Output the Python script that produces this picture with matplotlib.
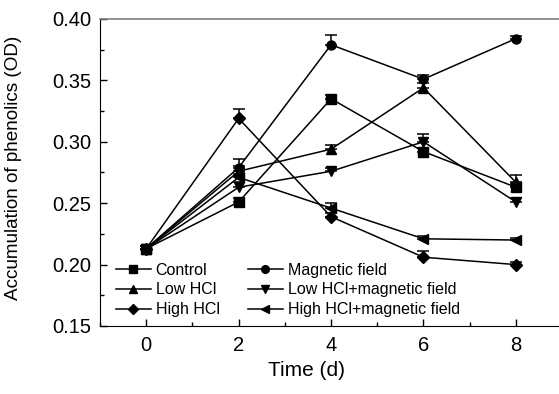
import numpy as np
import matplotlib.pyplot as plt
from matplotlib.lines import Line2D
from matplotlib.ticker import MultipleLocator

plt.rcParams['font.family'] = ['Liberation Sans', 'DejaVu Sans']

# Sampling days
days = [0, 2, 4, 6, 8]

# Mean phenolics accumulation (OD) per treatment
control = [0.213, 0.251, 0.335, 0.292, 0.263]
magnetic = [0.213, 0.279, 0.379, 0.351, 0.384]
low_hcl = [0.213, 0.276, 0.294, 0.344, 0.267]
low_hcl_mf = [0.213, 0.263, 0.276, 0.300, 0.251]
high_hcl = [0.213, 0.319, 0.239, 0.206, 0.200]
high_hcl_mf = [0.213, 0.271, 0.246, 0.221, 0.220]

# Upper error bars (only the upper half is drawn in the original)
control_err = [0.002, 0.003, 0.003, 0.003, 0.003]
magnetic_err = [0.002, 0.007, 0.008, 0.003, 0.002]
low_hcl_err = [0.002, 0.004, 0.003, 0.004, 0.006]
low_hcl_mf_err = [0.002, 0.004, 0.003, 0.006, 0.003]
high_hcl_err = [0.002, 0.008, 0.003, 0.005, 0.002]
high_hcl_mf_err = [0.002, 0.003, 0.004, 0.002, 0.002]

series = [
    ('Control', control, control_err, 's'),
    ('Low HCl', low_hcl, low_hcl_err, '^'),
    ('High HCl', high_hcl, high_hcl_err, 'D'),
    ('Magnetic field', magnetic, magnetic_err, 'o'),
    ('Low HCl+magnetic field', low_hcl_mf, low_hcl_mf_err, 'v'),
    ('High HCl+magnetic field', high_hcl_mf, high_hcl_mf_err, '<'),
]

fig = plt.figure(figsize=(5.59, 3.94), dpi=100)
ax = fig.add_axes([0.179, 0.1726, 0.8265, 0.7792])

handles = []
for name, vals, err, mk in series:
    ms = 5.8 if mk == 'D' else 6.5
    ax.errorbar(days, vals, yerr=[np.zeros(len(err)), err], color='black',
                marker=mk, markersize=ms, linewidth=1.1, elinewidth=1.1,
                capsize=4.5, capthick=1.1)
    handles.append(Line2D([], [], color='black', marker=mk,
                          markersize=ms * 0.85, linewidth=1.1, label=name))

ax.set_xlim(-1, 9)
ax.set_ylim(0.15, 0.40)
ax.xaxis.set_major_locator(MultipleLocator(2))
ax.xaxis.set_minor_locator(MultipleLocator(1))
ax.yaxis.set_major_locator(MultipleLocator(0.05))
ax.yaxis.set_minor_locator(MultipleLocator(0.025))
ax.yaxis.set_major_formatter(plt.FormatStrFormatter('%.2f'))
ax.tick_params(which='both', direction='in', top=False, right=False,
               labelsize=14.5, width=1)
ax.tick_params(which='major', length=5)
ax.tick_params(which='minor', length=3)
ax.tick_params(axis='x', pad=7)
ax.tick_params(axis='y', pad=6)

ax.spines['right'].set_visible(False)
ax.spines['top'].set_color('#7f7f7f')
ax.spines['top'].set_linewidth(1.2)

ax.set_xlabel('Time (d)', fontsize=15)
ax.set_ylabel('Accumulation of phenolics (OD)', fontsize=13.6)
ax.xaxis.set_label_coords(0.446, -0.115)
ax.yaxis.set_label_coords(-0.168, 0.515)

ax.legend(handles=handles, ncol=2, loc='lower left', frameon=False,
          fontsize=11.5, handlelength=2.2, handletextpad=0.3,
          columnspacing=1.75, labelspacing=0.3, borderaxespad=0.15,
          bbox_to_anchor=(0.015, 0.0))

fig.savefig('out.png', dpi=100)
